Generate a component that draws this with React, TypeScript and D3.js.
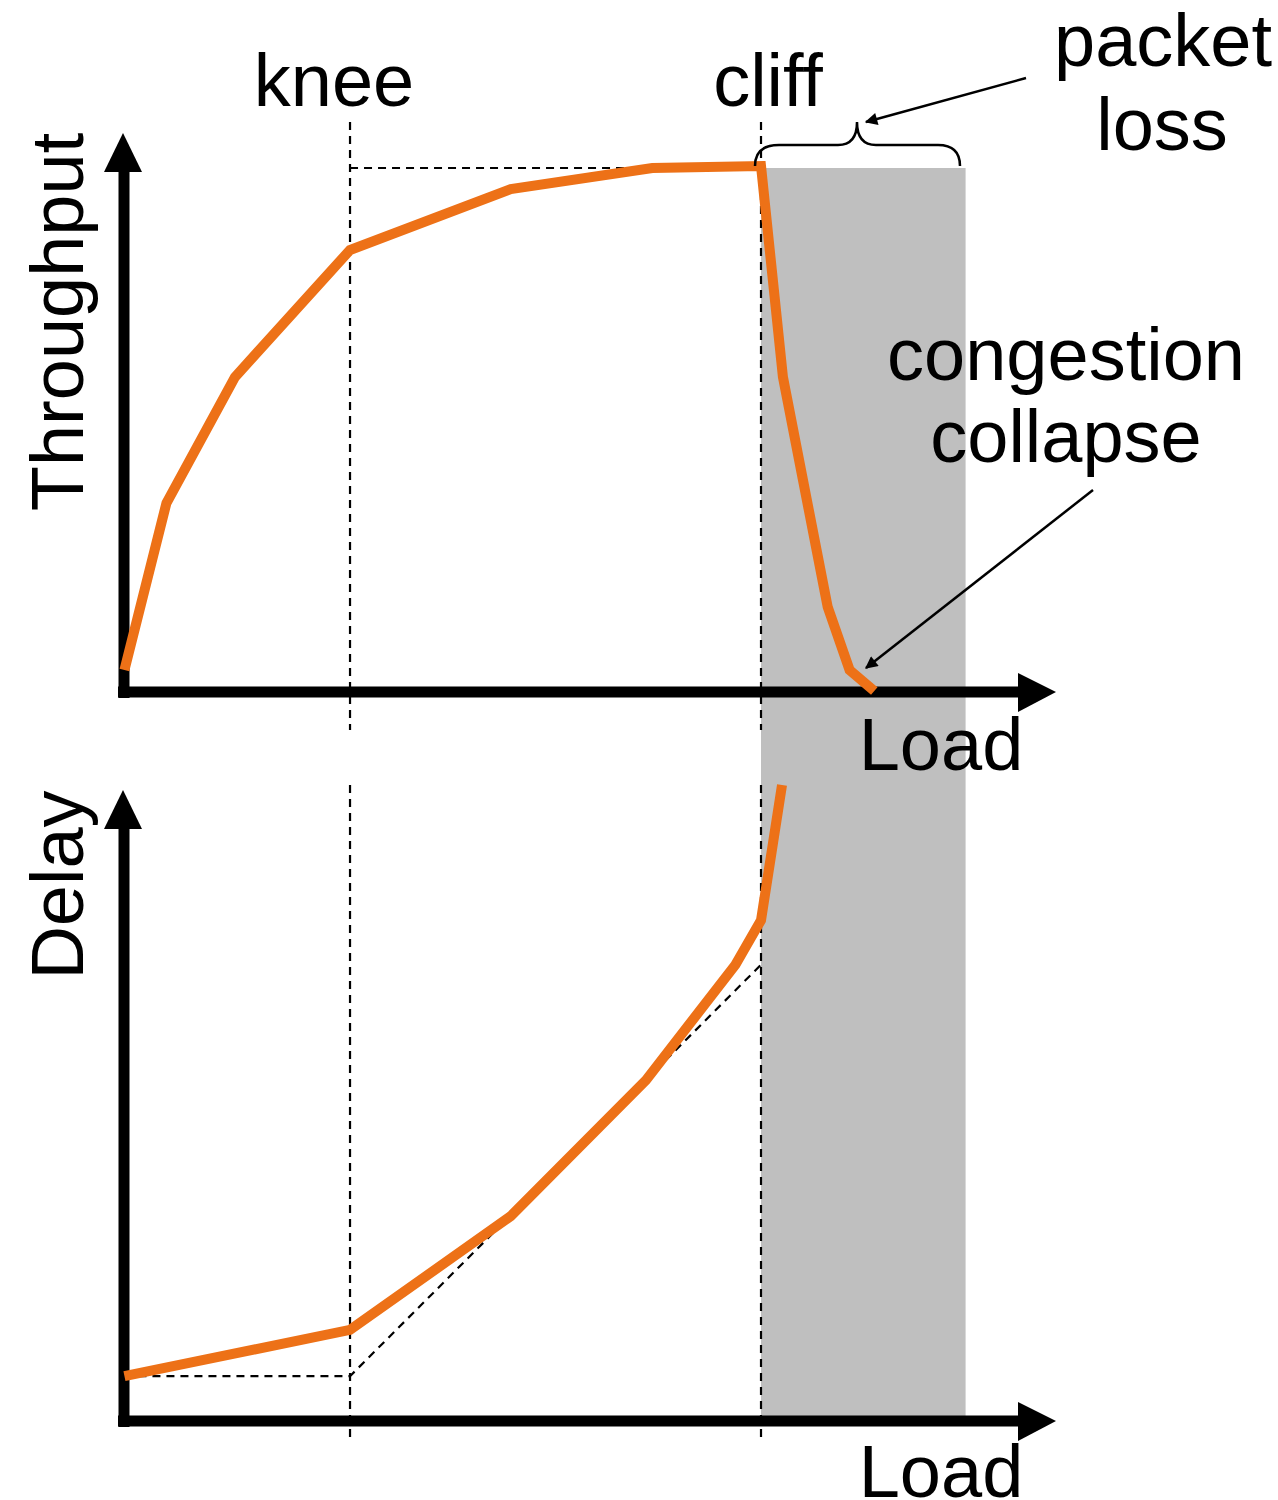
import React from "react";
import * as d3 from "d3";

// ---------- data ----------
const throughputLoad = [0.03, 0.49, 1.24, 2.5, 4.26, 5.81, 7.0, 7.24, 7.73, 7.97, 8.24];
const throughputValue = [0.4, 3.58, 5.98, 8.4, 9.56, 9.96, 10, 5.98, 1.6, 0.4, 0];

const delayLoad = [0.03, 2.5, 4.26, 5.74, 6.72, 7.0, 7.23];
const delayValue = [0.69, 1.42, 3.21, 5.35, 7.17, 7.87, 10];

const delayBaseLoad = [0.03, 2.5, 7.0];
const delayBaseValue = [0.69, 0.69, 7.17];

const kneeLoad = 2.5;
const cliffLoad = 7.0;
const collapseEndLoad = 9.24;
const maxThroughput = 10;

const labels = {
  knee: "knee",
  cliff: "cliff",
  packet: "packet",
  loss: "loss",
  congestion: "congestion",
  collapse: "collapse",
  load: "Load",
  throughput: "Throughput",
  delay: "Delay",
};

// ---------- layout ----------
const W = 1278;
const H = 1500;
const X0 = 124;
const TOP_Y0 = 692;
const BOT_Y0 = 1421;
const ORANGE = "#ED7117";
const FONT = "'Liberation Sans', Arial, sans-serif";
const FS = 74;

export default function App() {
  const x = d3.scaleLinear().domain([0, 10]).range([121.7, 1035]);
  const yT = d3.scaleLinear().domain([0, 10]).range([691, 166]);
  const yD = d3.scaleLinear().domain([0, 10]).range([1420, 785]);

  const lineT = d3
    .line<number>()
    .x((_, i) => x(throughputLoad[i]))
    .y((v) => yT(v));
  const lineD = d3
    .line<number>()
    .x((_, i) => x(delayLoad[i]))
    .y((v) => yD(v));
  const lineDB = d3
    .line<number>()
    .x((_, i) => x(delayBaseLoad[i]))
    .y((v) => yD(v));

  const kx = x(kneeLoad);
  const cx = x(cliffLoad);
  const ex = x(collapseEndLoad);
  const topY = yT(maxThroughput);

  const dash = "8,6";

  const axis = (y0: number, tipY: number) => (
    <g>
      <line x1={X0} y1={y0 + 6} x2={X0} y2={tipY + 30} stroke="#000" strokeWidth={11} />
      <polygon points={`${X0 - 1},${tipY} ${X0 - 20},${tipY + 39} ${X0 + 18},${tipY + 39}`} fill="#000" />
      <line x1={X0 - 6} y1={y0} x2={1025} y2={y0} stroke="#000" strokeWidth={11} />
      <polygon points={`1056,${y0} 1018,${y0 - 19} 1018,${y0 + 20}`} fill="#000" />
    </g>
  );

  return (
    <div style={{ position: "absolute", left: 0, top: 0 }}>
      <svg width={W} height={H} viewBox={`0 0 ${W} ${H}`} style={{ display: "block", background: "#fff" }}>
        <defs>
          <marker id="ah" viewBox="0 0 10 10" refX="9" refY="5" markerWidth="6" markerHeight="5" orient="auto" markerUnits="strokeWidth">
            <path d="M0,0 L10,5 L0,10 Z" fill="#000" />
          </marker>
        </defs>

        {/* gray congestion collapse band */}
        <rect x={cx} y={topY + 2} width={ex - cx} height={BOT_Y0 - 6 - topY} fill="#BFBFBF" />

        {/* dashed guides */}
        <line x1={kx} y1={122} x2={kx} y2={730} stroke="#000" strokeWidth={2.2} strokeDasharray={dash} />
        <line x1={kx} y1={785} x2={kx} y2={1442} stroke="#000" strokeWidth={2.2} strokeDasharray={dash} />
        <line x1={cx} y1={122} x2={cx} y2={730} stroke="#000" strokeWidth={2.2} strokeDasharray={dash} />
        <line x1={cx} y1={785} x2={cx} y2={1442} stroke="#000" strokeWidth={2.2} strokeDasharray={dash} />
        <line x1={kx} y1={topY + 2} x2={cx} y2={topY + 2} stroke="#000" strokeWidth={2.2} strokeDasharray={dash} />
        <path d={lineDB(delayBaseValue) || ""} fill="none" stroke="#000" strokeWidth={2.2} strokeDasharray={dash} />

        {/* axes */}
        {axis(TOP_Y0, 133)}
        {axis(BOT_Y0, 790)}

        {/* curves */}
        <path d={lineT(throughputValue) || ""} fill="none" stroke={ORANGE} strokeWidth={10} strokeLinejoin="miter" />
        <path d={lineD(delayValue) || ""} fill="none" stroke={ORANGE} strokeWidth={10} strokeLinejoin="miter" />

        {/* brace */}
        <path
          d={`M ${cx - 6} ${topY} Q ${cx - 6} 145 ${cx + 18} 145 L 838 145 Q 857 145 857 122 Q 857 145 876 145 L 938 145 Q 960 145 960 ${topY}`}
          fill="none"
          stroke="#000"
          strokeWidth={2.5}
        />

        {/* annotation arrows */}
        <line x1={1026} y1={78} x2={866} y2={122} stroke="#000" strokeWidth={2.5} markerEnd="url(#ah)" />
        <line x1={1093} y1={490} x2={866} y2={668} stroke="#000" strokeWidth={2.5} markerEnd="url(#ah)" />

        {/* text */}
        <g fontFamily={FONT} fontSize={FS} fill="#000" textAnchor="middle">
          <text x={334} y={106}>{labels.knee}</text>
          <text x={768} y={106}>{labels.cliff}</text>
          <text x={1163} y={66}>{labels.packet}</text>
          <text x={1162} y={150}>{labels.loss}</text>
          <text x={1066} y={380}>{labels.congestion}</text>
          <text x={1066} y={462}>{labels.collapse}</text>
          <text x={941} y={770}>{labels.load}</text>
          <text x={941} y={1497}>{labels.load}</text>
          <text transform={`translate(83,322) rotate(-90)`}>{labels.throughput}</text>
          <text transform={`translate(83,885) rotate(-90)`}>{labels.delay}</text>
        </g>
      </svg>
    </div>
  );
}
